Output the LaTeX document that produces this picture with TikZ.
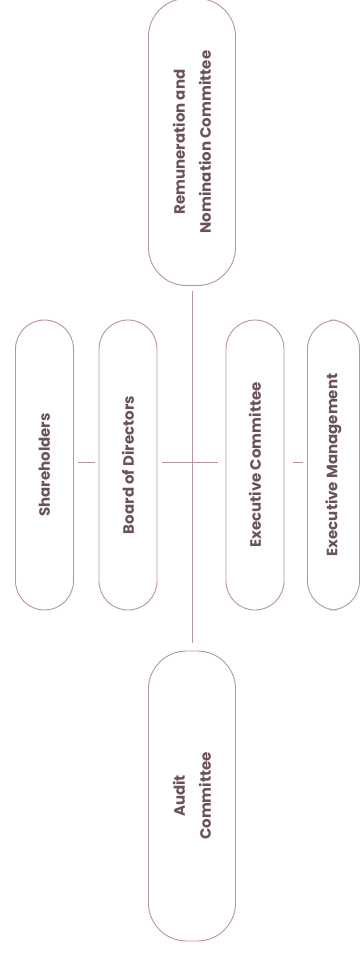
\documentclass[tikz,border=0pt]{standalone}
\usepackage{fontspec}
\setmainfont{Poppins}
\definecolor{linec}{HTML}{B8959C}
\definecolor{textc}{HTML}{6A5257}
\tikzset{
  box/.style={draw=linec, line width=0.9pt, rotate=90, inner sep=0pt,
    text=textc, font=\bfseries\fontsize{15}{26}\selectfont, align=center},
  narrow/.style={box, minimum width=290pt, minimum height=58pt, rounded corners=29pt},
  wide/.style={box, minimum width=287pt, minimum height=87pt, rounded corners=38pt},
  conn/.style={draw=linec, line width=0.9pt}
}
\begin{document}
\begin{tikzpicture}[x=1pt,y=-1pt]
\useasboundingbox (0,0) rectangle (361,953);
\node[wide] (rem) at (192,142) {Remuneration and\\Nomination Committee};
\node[wide, minimum width=290pt] (aud) at (192,796) {Audit\\Committee};
\node[narrow] (sh) at (44.5,465) {Shareholders};
\node[narrow] (bd) at (128,465) {Board of Directors};
\node[narrow] (exc) at (255,465) {Executive Committee};
\node[narrow, minimum height=52pt] (exm) at (333.5,465) {Executive Management};
\coordinate (hl) at (0,462);
\draw[conn, shorten <=5pt, shorten >=8pt] (rem.west) -- (aud.east);
\draw[conn, shorten <=4pt, shorten >=4pt] (sh.south |- hl) -- (bd.north |- hl);
\draw[conn, shorten <=5pt, shorten >=8pt] (bd.south |- hl) -- (exc.north |- hl);
\draw[conn, shorten <=9pt, shorten >=4pt] (exc.south |- hl) -- (exm.north |- hl);
\end{tikzpicture}
\end{document}
